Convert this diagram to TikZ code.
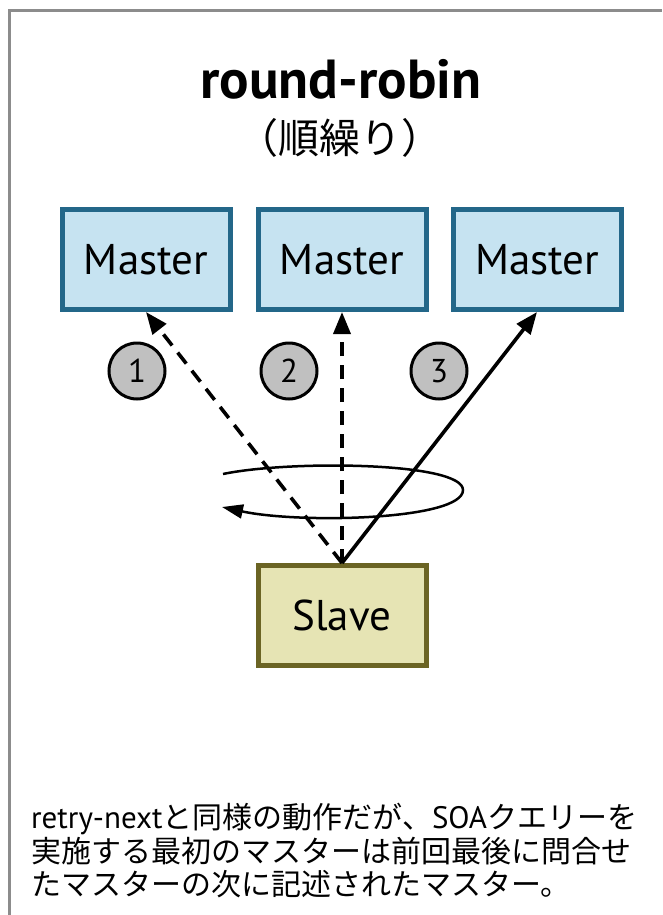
\documentclass[tikz,border=0pt]{standalone}
\usepackage{fontspec}
\setmainfont{PT Sans}
\newfontfamily\jp{Noto Sans CJK JP}
\usetikzlibrary{arrows.meta}
\definecolor{mfill}{HTML}{C6E3F1}
\definecolor{mdraw}{HTML}{236789}
\definecolor{sfill}{HTML}{E6E4B4}
\definecolor{sdraw}{HTML}{6B6424}
\definecolor{cfill}{HTML}{C0C0C0}
\definecolor{framegray}{HTML}{8C8C8C}
\begin{document}
\begin{tikzpicture}[x=1pt,y=-1pt,
  masterbox/.style={draw=mdraw, fill=mfill, line width=5pt, minimum width=168pt, minimum height=100pt, inner sep=0pt, font=\fontsize{43}{43}\selectfont},
  slavebox/.style={draw=sdraw, fill=sfill, line width=5pt, minimum width=168pt, minimum height=100pt, inner sep=0pt, font=\fontsize{43}{43}\selectfont},
  numcircle/.style={circle, draw=black, fill=cfill, line width=3pt, minimum size=56pt, inner sep=0pt, font=\fontsize{33}{33}\selectfont},
  link/.style={line width=3.6pt, -{Triangle[length=22pt,width=17pt]}},
  dashlink/.style={link, dash pattern=on 14pt off 9pt},
  desc/.style={anchor=base west, inner sep=0pt, font=\fontsize{30}{30}\selectfont}]
\useasboundingbox (0,0) rectangle (662,915);
\draw[framegray, line width=3pt] (9.5,915) -- (9.5,10.5) -- (662,10.5);

\node[font=\bfseries\fontsize{55}{55}\selectfont, anchor=base] (title) at (341,99) {round-robin};
\node[font=\jp\fontsize{41}{41}\selectfont] (sub) at (340,138) {（順繰り）};

\node[masterbox] (m1) at (146,259.5) {Master};
\node[masterbox] (m2) at (342,259.5) {Master};
\node[masterbox] (m3) at (537,259.5) {Master};
\node[slavebox] (s) at (342,615.5) {Slave};

\node[numcircle] (c1) at (137,371) {1};
\node[numcircle] (c2) at (289,371) {2};
\node[numcircle] (c3) at (439,371) {3};

\coordinate (e0) at (223,474);
\coordinate (e1) at (463,490);
\coordinate (e2) at (222,507);
\draw[line width=2.5pt, -{Triangle[length=21pt,width=14pt]}] (e0) .. controls (290,460) and (463,462) .. (e1) .. controls (463,520) and (300,524) .. (e2);

\draw[dashlink] (s.north) -- (m1.south);
\draw[dashlink] (s.north) -- (m2.south);
\draw[link] (s.north) -- (m3.south);

\node[desc] (d1) at (31,828) {{\fontsize{31}{31}\selectfont retry-next}{\jp と同様の動作だが、}{\fontsize{31}{31}\selectfont SOA}{\jp クエリーを}};
\node[desc] (d2) at (31,862) {\jp 実施する最初のマスターは前回最後に問合せ};
\node[desc] (d3) at (31,895) {\jp たマスターの次に記述されたマスター。};
\end{tikzpicture}
\end{document}
